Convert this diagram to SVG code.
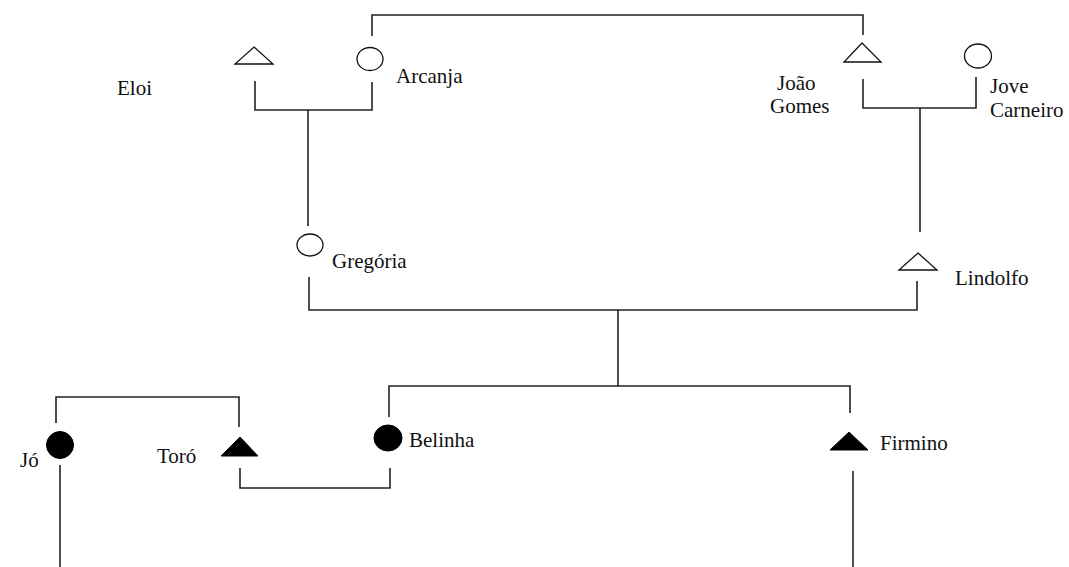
<svg xmlns="http://www.w3.org/2000/svg" width="1069" height="567" viewBox="0 0 1069 567">
  <style>
    .link { fill: none; stroke: #222; stroke-width: 1.6; }
    .open { fill: #fff; stroke: #111; stroke-width: 1.3; }
    .solid { fill: #000; stroke: #000; stroke-width: 1; }
    .name { font-family: "Liberation Serif", "Times New Roman", serif; font-size: 21px; fill: #111; }
  </style>
  <rect width="1069" height="567" fill="#fff"/>

  <!-- kinship lines -->
  <g id="connectors">
    <!-- Arcanja to João Gomes -->
    <polyline class="link" points="372,36 372,15 863,15 863,35"/>
    <!-- Eloi + Arcanja -->
    <polyline class="link" points="255,81 255,110 372,110 372,82"/>
    <line class="link" x1="308" y1="110" x2="308" y2="226"/>
    <!-- João Gomes + Jove Carneiro -->
    <polyline class="link" points="863,79 863,108 976,108 976,77"/>
    <line class="link" x1="920" y1="108" x2="920" y2="232"/>
    <!-- Gregória + Lindolfo -->
    <polyline class="link" points="309,277 309,310 917,310 917,281"/>
    <line class="link" x1="618" y1="310" x2="618" y2="386"/>
    <!-- children of Gregória and Lindolfo -->
    <polyline class="link" points="389,417 389,386 850,386 850,413"/>
    <!-- Toró + Belinha -->
    <polyline class="link" points="240,468 240,488 390,488 390,468"/>
    <!-- Jó + Toró -->
    <polyline class="link" points="56,423 56,397 239,397 239,427"/>
    <!-- lines running off the bottom edge -->
    <line class="link" x1="60" y1="465" x2="60" y2="567"/>
    <line class="link" x1="853" y1="471" x2="853" y2="567"/>
  </g>

  <g id="eloi">
    <polygon class="open" points="254,47 273,64 235,64"/>
    <text class="name" x="117" y="95">Eloi</text>
  </g>
  <g id="arcanja">
    <ellipse class="open" cx="370" cy="59" rx="13" ry="11.5"/>
    <text class="name" x="396" y="83">Arcanja</text>
  </g>
  <g id="joao-gomes">
    <polygon class="open" points="862,43 881,62 844,62"/>
    <text class="name" x="777" y="90">João</text>
    <text class="name" x="770" y="113">Gomes</text>
  </g>
  <g id="jove-carneiro">
    <ellipse class="open" cx="978" cy="56" rx="13.5" ry="12"/>
    <text class="name" x="990" y="93">Jove</text>
    <text class="name" x="990" y="117">Carneiro</text>
  </g>
  <g id="gregoria">
    <ellipse class="open" cx="310" cy="245" rx="13" ry="11"/>
    <text class="name" x="332" y="268">Gregória</text>
  </g>
  <g id="lindolfo">
    <polygon class="open" points="918,253 937,270 899,270"/>
    <text class="name" x="955" y="285">Lindolfo</text>
  </g>
  <g id="jo">
    <ellipse class="solid" cx="60" cy="445" rx="13.5" ry="13.5"/>
    <text class="name" x="20" y="467">Jó</text>
  </g>
  <g id="toro">
    <polygon class="solid" points="240,437 258,456 221,456"/>
    <text class="name" x="157" y="463">Toró</text>
  </g>
  <g id="belinha">
    <ellipse class="solid" cx="388" cy="438" rx="14" ry="13"/>
    <text class="name" x="409" y="447">Belinha</text>
  </g>
  <g id="firmino">
    <polygon class="solid" points="849,432 868,450 830,450"/>
    <text class="name" x="880" y="450">Firmino</text>
  </g>
</svg>
